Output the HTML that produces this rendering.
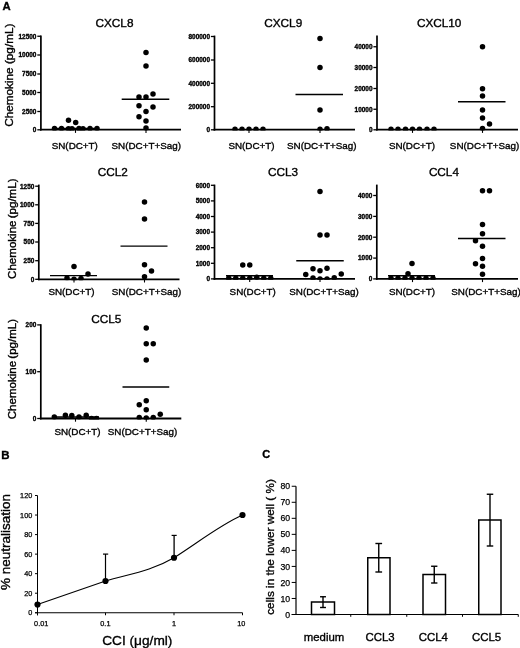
<!DOCTYPE html>
<html><head><meta charset="utf-8"><title>Figure</title>
<style>
html,body{margin:0;padding:0;background:#fff;}
svg{display:block;}
svg text{font-family:'Liberation Sans', Arial, sans-serif;fill:#000;stroke:#000;stroke-width:0.35px;}
</style></head><body>
<svg width="520" height="648" viewBox="0 0 520 648" font-family='"Liberation Sans", Arial, sans-serif'>
<rect x="0" y="0" width="520" height="648" fill="#fff"/>
<line x1="40.9" y1="35.6" x2="40.9" y2="130.6" stroke="#000" stroke-width="1.7" />
<line x1="40.0" y1="129.7" x2="181" y2="129.7" stroke="#000" stroke-width="1.8" />
<line x1="37.3" y1="36.25" x2="40.9" y2="36.25" stroke="#000" stroke-width="1.3" />
<text x="36.4" y="38.6" font-size="6.45" text-anchor="end" font-weight="bold" >12500</text>
<line x1="37.3" y1="55" x2="40.9" y2="55" stroke="#000" stroke-width="1.3" />
<text x="36.4" y="57.35" font-size="6.45" text-anchor="end" font-weight="bold" >10000</text>
<line x1="37.3" y1="74" x2="40.9" y2="74" stroke="#000" stroke-width="1.3" />
<text x="36.4" y="76.35" font-size="6.45" text-anchor="end" font-weight="bold" >7500</text>
<line x1="37.3" y1="92.5" x2="40.9" y2="92.5" stroke="#000" stroke-width="1.3" />
<text x="36.4" y="94.85" font-size="6.45" text-anchor="end" font-weight="bold" >5000</text>
<line x1="37.3" y1="111.5" x2="40.9" y2="111.5" stroke="#000" stroke-width="1.3" />
<text x="36.4" y="113.85" font-size="6.45" text-anchor="end" font-weight="bold" >2500</text>
<line x1="37.3" y1="129.8" x2="40.9" y2="129.8" stroke="#000" stroke-width="1.3" />
<text x="36.4" y="132.15" font-size="6.45" text-anchor="end" font-weight="bold" >0</text>
<line x1="75.5" y1="129.7" x2="75.5" y2="132.89999999999998" stroke="#000" stroke-width="1.1" />
<line x1="146" y1="129.7" x2="146" y2="132.89999999999998" stroke="#000" stroke-width="1.1" />
<text x="114.5" y="27.3" font-size="11.75" text-anchor="middle" font-weight="normal" >CXCL8</text>
<text x="74.8" y="148.6" font-size="9.85" text-anchor="middle" font-weight="normal" >SN(DC+T)</text>
<text x="146.3" y="148.6" font-size="9.85" text-anchor="middle" font-weight="normal" >SN(DC+T+Sag)</text>
<clipPath id="cl1"><rect x="0" y="0" width="520" height="130.6"/></clipPath>
<g clip-path="url(#cl1)">
<circle cx="68.5" cy="120.3" r="2.75"/>
<circle cx="75.7" cy="122.6" r="2.75"/>
<circle cx="54.5" cy="128.6" r="2.75"/>
<circle cx="61.5" cy="128.6" r="2.75"/>
<circle cx="68.5" cy="128.8" r="2.75"/>
<circle cx="72" cy="128.8" r="2.75"/>
<circle cx="79" cy="128.6" r="2.75"/>
<circle cx="83" cy="128.8" r="2.75"/>
<circle cx="90" cy="128.6" r="2.75"/>
<circle cx="97" cy="128.4" r="2.75"/>
<circle cx="146" cy="52.4" r="2.75"/>
<circle cx="146" cy="66" r="2.75"/>
<circle cx="139" cy="97" r="2.75"/>
<circle cx="146" cy="97" r="2.75"/>
<circle cx="153" cy="94" r="2.75"/>
<circle cx="139" cy="105.8" r="2.75"/>
<circle cx="146" cy="111.5" r="2.75"/>
<circle cx="153" cy="107" r="2.75"/>
<circle cx="139" cy="116.8" r="2.75"/>
<circle cx="146" cy="121" r="2.75"/>
<circle cx="146" cy="128.1" r="2.75"/>
</g>
<line x1="52" y1="128.4" x2="99" y2="128.4" stroke="#000" stroke-width="1.4" />
<line x1="121.7" y1="99.25" x2="169.3" y2="99.25" stroke="#000" stroke-width="1.4" />
<text x="0" y="0" font-size="11.75" text-anchor="middle" font-weight="normal" word-spacing="0" transform="translate(12.9,75.2) rotate(-90)">Chemokine (pg/mL)</text>
<line x1="214.5" y1="35.6" x2="214.5" y2="130.6" stroke="#000" stroke-width="1.7" />
<line x1="213.6" y1="129.7" x2="355" y2="129.7" stroke="#000" stroke-width="1.8" />
<line x1="210.9" y1="36.5" x2="214.5" y2="36.5" stroke="#000" stroke-width="1.3" />
<text x="210.0" y="38.85" font-size="6.45" text-anchor="end" font-weight="bold" >800000</text>
<line x1="210.9" y1="60" x2="214.5" y2="60" stroke="#000" stroke-width="1.3" />
<text x="210.0" y="62.35" font-size="6.45" text-anchor="end" font-weight="bold" >600000</text>
<line x1="210.9" y1="83.3" x2="214.5" y2="83.3" stroke="#000" stroke-width="1.3" />
<text x="210.0" y="85.64999999999999" font-size="6.45" text-anchor="end" font-weight="bold" >400000</text>
<line x1="210.9" y1="106.7" x2="214.5" y2="106.7" stroke="#000" stroke-width="1.3" />
<text x="210.0" y="109.05" font-size="6.45" text-anchor="end" font-weight="bold" >200000</text>
<line x1="210.9" y1="129.8" x2="214.5" y2="129.8" stroke="#000" stroke-width="1.3" />
<text x="210.0" y="132.15" font-size="6.45" text-anchor="end" font-weight="bold" >0</text>
<line x1="249" y1="129.7" x2="249" y2="132.89999999999998" stroke="#000" stroke-width="1.1" />
<line x1="320" y1="129.7" x2="320" y2="132.89999999999998" stroke="#000" stroke-width="1.1" />
<text x="283.25" y="27.3" font-size="11.75" text-anchor="middle" font-weight="normal" >CXCL9</text>
<text x="251.5" y="148.6" font-size="9.85" text-anchor="middle" font-weight="normal" >SN(DC+T)</text>
<text x="321.8" y="148.6" font-size="9.85" text-anchor="middle" font-weight="normal" >SN(DC+T+Sag)</text>
<clipPath id="cl2"><rect x="0" y="0" width="520" height="130.6"/></clipPath>
<g clip-path="url(#cl2)">
<circle cx="235" cy="129.3" r="2.75"/>
<circle cx="242" cy="129.3" r="2.75"/>
<circle cx="249" cy="129.3" r="2.75"/>
<circle cx="256" cy="129.3" r="2.75"/>
<circle cx="263" cy="129.3" r="2.75"/>
<circle cx="320" cy="38.5" r="2.75"/>
<circle cx="320" cy="67.5" r="2.75"/>
<circle cx="320" cy="110" r="2.75"/>
<circle cx="320" cy="129.3" r="2.75"/>
<circle cx="327" cy="128.8" r="2.75"/>
</g>
<line x1="295.5" y1="94.5" x2="343" y2="94.5" stroke="#000" stroke-width="1.4" />
<line x1="377" y1="35.6" x2="377" y2="130.6" stroke="#000" stroke-width="1.7" />
<line x1="376.1" y1="129.7" x2="518" y2="129.7" stroke="#000" stroke-width="1.8" />
<line x1="373.4" y1="46.75" x2="377" y2="46.75" stroke="#000" stroke-width="1.3" />
<text x="372.5" y="49.1" font-size="6.45" text-anchor="end" font-weight="bold" >40000</text>
<line x1="373.4" y1="67.5" x2="377" y2="67.5" stroke="#000" stroke-width="1.3" />
<text x="372.5" y="69.85" font-size="6.45" text-anchor="end" font-weight="bold" >30000</text>
<line x1="373.4" y1="88.5" x2="377" y2="88.5" stroke="#000" stroke-width="1.3" />
<text x="372.5" y="90.85" font-size="6.45" text-anchor="end" font-weight="bold" >20000</text>
<line x1="373.4" y1="109.25" x2="377" y2="109.25" stroke="#000" stroke-width="1.3" />
<text x="372.5" y="111.6" font-size="6.45" text-anchor="end" font-weight="bold" >10000</text>
<line x1="373.4" y1="129.8" x2="377" y2="129.8" stroke="#000" stroke-width="1.3" />
<text x="372.5" y="132.15" font-size="6.45" text-anchor="end" font-weight="bold" >0</text>
<line x1="412.5" y1="129.7" x2="412.5" y2="132.89999999999998" stroke="#000" stroke-width="1.1" />
<line x1="482.5" y1="129.7" x2="482.5" y2="132.89999999999998" stroke="#000" stroke-width="1.1" />
<text x="439.2" y="27.3" font-size="11.75" text-anchor="middle" font-weight="normal" >CXCL10</text>
<text x="412" y="148.6" font-size="9.85" text-anchor="middle" font-weight="normal" >SN(DC+T)</text>
<text x="484.6" y="148.6" font-size="9.85" text-anchor="middle" font-weight="normal" >SN(DC+T+Sag)</text>
<clipPath id="cl3"><rect x="0" y="0" width="520" height="130.6"/></clipPath>
<g clip-path="url(#cl3)">
<circle cx="391" cy="129.3" r="2.75"/>
<circle cx="398" cy="129.3" r="2.75"/>
<circle cx="405.5" cy="129.3" r="2.75"/>
<circle cx="412.5" cy="129.3" r="2.75"/>
<circle cx="419.5" cy="129.3" r="2.75"/>
<circle cx="427" cy="129.3" r="2.75"/>
<circle cx="434" cy="129.3" r="2.75"/>
<circle cx="482.5" cy="46.75" r="2.75"/>
<circle cx="482.5" cy="88.75" r="2.75"/>
<circle cx="482.5" cy="96" r="2.75"/>
<circle cx="482.5" cy="110" r="2.75"/>
<circle cx="482.5" cy="118" r="2.75"/>
<circle cx="489.5" cy="124" r="2.75"/>
<circle cx="482.5" cy="128.5" r="2.75"/>
</g>
<line x1="458" y1="101.75" x2="505.5" y2="101.75" stroke="#000" stroke-width="1.4" />
<line x1="38.8" y1="184.6" x2="38.8" y2="280.2" stroke="#000" stroke-width="1.7" />
<line x1="37.9" y1="279.3" x2="179.5" y2="279.3" stroke="#000" stroke-width="1.8" />
<line x1="35.199999999999996" y1="186.2" x2="38.8" y2="186.2" stroke="#000" stroke-width="1.3" />
<text x="34.3" y="188.54999999999998" font-size="6.45" text-anchor="end" font-weight="bold" >1250</text>
<line x1="35.199999999999996" y1="204.8" x2="38.8" y2="204.8" stroke="#000" stroke-width="1.3" />
<text x="34.3" y="207.15" font-size="6.45" text-anchor="end" font-weight="bold" >1000</text>
<line x1="35.199999999999996" y1="223.4" x2="38.8" y2="223.4" stroke="#000" stroke-width="1.3" />
<text x="34.3" y="225.75" font-size="6.45" text-anchor="end" font-weight="bold" >750</text>
<line x1="35.199999999999996" y1="242" x2="38.8" y2="242" stroke="#000" stroke-width="1.3" />
<text x="34.3" y="244.35" font-size="6.45" text-anchor="end" font-weight="bold" >500</text>
<line x1="35.199999999999996" y1="260.7" x2="38.8" y2="260.7" stroke="#000" stroke-width="1.3" />
<text x="34.3" y="263.05" font-size="6.45" text-anchor="end" font-weight="bold" >250</text>
<line x1="35.199999999999996" y1="279.3" x2="38.8" y2="279.3" stroke="#000" stroke-width="1.3" />
<text x="34.3" y="281.65000000000003" font-size="6.45" text-anchor="end" font-weight="bold" >0</text>
<line x1="74" y1="279.3" x2="74" y2="282.5" stroke="#000" stroke-width="1.1" />
<line x1="144.5" y1="279.3" x2="144.5" y2="282.5" stroke="#000" stroke-width="1.1" />
<text x="112.7" y="175.6" font-size="11.75" text-anchor="middle" font-weight="normal" >CCL2</text>
<text x="71.5" y="295.1" font-size="9.85" text-anchor="middle" font-weight="normal" >SN(DC+T)</text>
<text x="146.5" y="295.1" font-size="9.85" text-anchor="middle" font-weight="normal" >SN(DC+T+Sag)</text>
<clipPath id="cl4"><rect x="0" y="0" width="520" height="280.2"/></clipPath>
<g clip-path="url(#cl4)">
<circle cx="74" cy="266.5" r="2.75"/>
<circle cx="88" cy="274" r="2.75"/>
<circle cx="67" cy="278" r="2.75"/>
<circle cx="74" cy="279.3" r="2.75"/>
<circle cx="81" cy="278.5" r="2.75"/>
<circle cx="144.5" cy="202" r="2.75"/>
<circle cx="144.5" cy="219" r="2.75"/>
<circle cx="144.5" cy="264.75" r="2.75"/>
<circle cx="151.5" cy="271" r="2.75"/>
<circle cx="144.5" cy="276.75" r="2.75"/>
</g>
<line x1="50" y1="275.6" x2="97" y2="275.6" stroke="#000" stroke-width="1.4" />
<line x1="120.5" y1="246.1" x2="167.5" y2="246.1" stroke="#000" stroke-width="1.4" />
<text x="0" y="0" font-size="11.55" text-anchor="middle" font-weight="normal" word-spacing="-1" transform="translate(16.4,228.7) rotate(-90)">Chemokine (pg/mL)</text>
<line x1="214.5" y1="184.6" x2="214.5" y2="279.79999999999995" stroke="#000" stroke-width="1.7" />
<line x1="213.6" y1="278.9" x2="355" y2="278.9" stroke="#000" stroke-width="1.8" />
<line x1="210.9" y1="185.3" x2="214.5" y2="185.3" stroke="#000" stroke-width="1.3" />
<text x="210.0" y="187.65" font-size="6.45" text-anchor="end" font-weight="bold" >6000</text>
<line x1="210.9" y1="200.9" x2="214.5" y2="200.9" stroke="#000" stroke-width="1.3" />
<text x="210.0" y="203.25" font-size="6.45" text-anchor="end" font-weight="bold" >5000</text>
<line x1="210.9" y1="216.5" x2="214.5" y2="216.5" stroke="#000" stroke-width="1.3" />
<text x="210.0" y="218.85" font-size="6.45" text-anchor="end" font-weight="bold" >4000</text>
<line x1="210.9" y1="232.1" x2="214.5" y2="232.1" stroke="#000" stroke-width="1.3" />
<text x="210.0" y="234.45" font-size="6.45" text-anchor="end" font-weight="bold" >3000</text>
<line x1="210.9" y1="247.7" x2="214.5" y2="247.7" stroke="#000" stroke-width="1.3" />
<text x="210.0" y="250.04999999999998" font-size="6.45" text-anchor="end" font-weight="bold" >2000</text>
<line x1="210.9" y1="263.3" x2="214.5" y2="263.3" stroke="#000" stroke-width="1.3" />
<text x="210.0" y="265.65000000000003" font-size="6.45" text-anchor="end" font-weight="bold" >1000</text>
<line x1="210.9" y1="278.9" x2="214.5" y2="278.9" stroke="#000" stroke-width="1.3" />
<text x="210.0" y="281.25" font-size="6.45" text-anchor="end" font-weight="bold" >0</text>
<line x1="249.7" y1="278.9" x2="249.7" y2="282.09999999999997" stroke="#000" stroke-width="1.1" />
<line x1="320" y1="278.9" x2="320" y2="282.09999999999997" stroke="#000" stroke-width="1.1" />
<text x="283.1" y="175.6" font-size="11.75" text-anchor="middle" font-weight="normal" >CCL3</text>
<text x="252.7" y="295.1" font-size="9.85" text-anchor="middle" font-weight="normal" >SN(DC+T)</text>
<text x="324" y="295.1" font-size="9.85" text-anchor="middle" font-weight="normal" >SN(DC+T+Sag)</text>
<clipPath id="cl5"><rect x="0" y="0" width="520" height="279.79999999999995"/></clipPath>
<g clip-path="url(#cl5)">
<circle cx="242.75" cy="265" r="2.75"/>
<circle cx="249.75" cy="265" r="2.75"/>
<circle cx="228.75" cy="278.3" r="2.75"/>
<circle cx="235.75" cy="278.3" r="2.75"/>
<circle cx="242.75" cy="278.3" r="2.75"/>
<circle cx="249.75" cy="278.3" r="2.75"/>
<circle cx="256.75" cy="277.2" r="2.75"/>
<circle cx="263.75" cy="278.3" r="2.75"/>
<circle cx="270.75" cy="278.3" r="2.75"/>
<circle cx="320" cy="191.5" r="2.75"/>
<circle cx="320" cy="235" r="2.75"/>
<circle cx="327" cy="235" r="2.75"/>
<circle cx="313" cy="268.75" r="2.75"/>
<circle cx="320" cy="270.75" r="2.75"/>
<circle cx="327" cy="268.25" r="2.75"/>
<circle cx="305.75" cy="274.5" r="2.75"/>
<circle cx="341.25" cy="274" r="2.75"/>
<circle cx="313" cy="278" r="2.75"/>
<circle cx="320" cy="279" r="2.75"/>
<circle cx="327" cy="279" r="2.75"/>
<circle cx="334.25" cy="277.75" r="2.75"/>
</g>
<line x1="226" y1="275.8" x2="273" y2="275.8" stroke="#000" stroke-width="1.4" />
<line x1="296.25" y1="260.75" x2="343.75" y2="260.75" stroke="#000" stroke-width="1.4" />
<line x1="376.8" y1="184.6" x2="376.8" y2="279.79999999999995" stroke="#000" stroke-width="1.7" />
<line x1="375.90000000000003" y1="278.9" x2="518" y2="278.9" stroke="#000" stroke-width="1.8" />
<line x1="373.2" y1="195.5" x2="376.8" y2="195.5" stroke="#000" stroke-width="1.3" />
<text x="372.3" y="197.85" font-size="6.45" text-anchor="end" font-weight="bold" >4000</text>
<line x1="373.2" y1="216.4" x2="376.8" y2="216.4" stroke="#000" stroke-width="1.3" />
<text x="372.3" y="218.75" font-size="6.45" text-anchor="end" font-weight="bold" >3000</text>
<line x1="373.2" y1="237.2" x2="376.8" y2="237.2" stroke="#000" stroke-width="1.3" />
<text x="372.3" y="239.54999999999998" font-size="6.45" text-anchor="end" font-weight="bold" >2000</text>
<line x1="373.2" y1="258.1" x2="376.8" y2="258.1" stroke="#000" stroke-width="1.3" />
<text x="372.3" y="260.45000000000005" font-size="6.45" text-anchor="end" font-weight="bold" >1000</text>
<line x1="373.2" y1="278.9" x2="376.8" y2="278.9" stroke="#000" stroke-width="1.3" />
<text x="372.3" y="281.25" font-size="6.45" text-anchor="end" font-weight="bold" >0</text>
<line x1="412.5" y1="278.9" x2="412.5" y2="282.09999999999997" stroke="#000" stroke-width="1.1" />
<line x1="482.5" y1="278.9" x2="482.5" y2="282.09999999999997" stroke="#000" stroke-width="1.1" />
<text x="443.9" y="175.6" font-size="11.75" text-anchor="middle" font-weight="normal" >CCL4</text>
<text x="412" y="295.1" font-size="9.85" text-anchor="middle" font-weight="normal" >SN(DC+T)</text>
<text x="486" y="295.1" font-size="9.85" text-anchor="middle" font-weight="normal" >SN(DC+T+Sag)</text>
<clipPath id="cl6"><rect x="0" y="0" width="520" height="279.79999999999995"/></clipPath>
<g clip-path="url(#cl6)">
<circle cx="412" cy="263.5" r="2.75"/>
<circle cx="408" cy="273.8" r="2.75"/>
<circle cx="391" cy="278.2" r="2.75"/>
<circle cx="398" cy="278.2" r="2.75"/>
<circle cx="405" cy="278.2" r="2.75"/>
<circle cx="412" cy="278.2" r="2.75"/>
<circle cx="419" cy="278.2" r="2.75"/>
<circle cx="426" cy="278.2" r="2.75"/>
<circle cx="433" cy="278.2" r="2.75"/>
<circle cx="482.5" cy="190.75" r="2.75"/>
<circle cx="489.5" cy="190.75" r="2.75"/>
<circle cx="482.5" cy="224.5" r="2.75"/>
<circle cx="482.5" cy="233.75" r="2.75"/>
<circle cx="475.5" cy="240.75" r="2.75"/>
<circle cx="482.5" cy="246.25" r="2.75"/>
<circle cx="482.5" cy="258.5" r="2.75"/>
<circle cx="475.5" cy="263.75" r="2.75"/>
<circle cx="482.5" cy="266.25" r="2.75"/>
<circle cx="482.5" cy="274.25" r="2.75"/>
</g>
<line x1="388" y1="275.8" x2="435" y2="275.8" stroke="#000" stroke-width="1.4" />
<line x1="458" y1="238.5" x2="505.5" y2="238.5" stroke="#000" stroke-width="1.4" />
<line x1="40.8" y1="324.20000000000005" x2="40.8" y2="419.4" stroke="#000" stroke-width="1.7" />
<line x1="39.9" y1="418.5" x2="181.3" y2="418.5" stroke="#000" stroke-width="1.8" />
<line x1="37.199999999999996" y1="324.9" x2="40.8" y2="324.9" stroke="#000" stroke-width="1.3" />
<text x="36.3" y="327.25" font-size="6.45" text-anchor="end" font-weight="bold" >200</text>
<line x1="37.199999999999996" y1="371.7" x2="40.8" y2="371.7" stroke="#000" stroke-width="1.3" />
<text x="36.3" y="374.05" font-size="6.45" text-anchor="end" font-weight="bold" >100</text>
<line x1="37.199999999999996" y1="418.5" x2="40.8" y2="418.5" stroke="#000" stroke-width="1.3" />
<text x="36.3" y="420.85" font-size="6.45" text-anchor="end" font-weight="bold" >0</text>
<line x1="75.5" y1="418.5" x2="75.5" y2="421.7" stroke="#000" stroke-width="1.1" />
<line x1="146.25" y1="418.5" x2="146.25" y2="421.7" stroke="#000" stroke-width="1.1" />
<text x="106.25" y="323" font-size="11.75" text-anchor="middle" font-weight="normal" >CCL5</text>
<text x="77.5" y="435.3" font-size="9.85" text-anchor="middle" font-weight="normal" >SN(DC+T)</text>
<text x="142.5" y="435.3" font-size="9.85" text-anchor="middle" font-weight="normal" >SN(DC+T+Sag)</text>
<clipPath id="cl7"><rect x="0" y="0" width="520" height="419.4"/></clipPath>
<g clip-path="url(#cl7)">
<circle cx="54.3" cy="417" r="2.75"/>
<circle cx="65.4" cy="415.3" r="2.75"/>
<circle cx="71.8" cy="415.5" r="2.75"/>
<circle cx="79" cy="417" r="2.75"/>
<circle cx="86.2" cy="415.3" r="2.75"/>
<circle cx="91.5" cy="418.6" r="2.75"/>
<circle cx="96.5" cy="418.4" r="2.75"/>
<circle cx="146.25" cy="328" r="2.75"/>
<circle cx="146.25" cy="343.75" r="2.75"/>
<circle cx="153.25" cy="343.75" r="2.75"/>
<circle cx="146.25" cy="360" r="2.75"/>
<circle cx="146.25" cy="400.75" r="2.75"/>
<circle cx="139.25" cy="404.75" r="2.75"/>
<circle cx="146.25" cy="409.75" r="2.75"/>
<circle cx="160.25" cy="414.25" r="2.75"/>
<circle cx="139.25" cy="417.5" r="2.75"/>
<circle cx="146.25" cy="418" r="2.75"/>
<circle cx="153.25" cy="417.5" r="2.75"/>
</g>
<line x1="52" y1="417" x2="99" y2="417" stroke="#000" stroke-width="1.4" />
<line x1="122.5" y1="387" x2="169.25" y2="387" stroke="#000" stroke-width="1.4" />
<text x="0" y="0" font-size="11.55" text-anchor="middle" font-weight="normal" word-spacing="-1" transform="translate(16.4,369.1) rotate(-90)">Chemokine (pg/mL)</text>
<text x="2.6" y="9.9" font-size="11.3" text-anchor="start" font-weight="bold" >A</text>
<text x="1.2" y="459" font-size="11.5" text-anchor="start" font-weight="bold" >B</text>
<text x="262.3" y="457.5" font-size="11" text-anchor="start" font-weight="bold" >C</text>
<line x1="37.5" y1="495.5" x2="37.5" y2="615.25" stroke="#000" stroke-width="1.0" />
<line x1="35.0" y1="612.75" x2="242.5" y2="612.75" stroke="#000" stroke-width="1.0" />
<line x1="35.0" y1="495.5" x2="37.5" y2="495.5" stroke="#000" stroke-width="1.0" />
<text x="32.3" y="498.0" font-size="7.3" text-anchor="end" font-weight="normal" style="stroke-width:0.25px">120</text>
<line x1="35.0" y1="515.0416666666666" x2="37.5" y2="515.0416666666666" stroke="#000" stroke-width="1.0" />
<text x="32.3" y="517.5416666666666" font-size="7.3" text-anchor="end" font-weight="normal" style="stroke-width:0.25px">100</text>
<line x1="35.0" y1="534.5833333333334" x2="37.5" y2="534.5833333333334" stroke="#000" stroke-width="1.0" />
<text x="32.3" y="537.0833333333334" font-size="7.3" text-anchor="end" font-weight="normal" style="stroke-width:0.25px">80</text>
<line x1="35.0" y1="554.125" x2="37.5" y2="554.125" stroke="#000" stroke-width="1.0" />
<text x="32.3" y="556.625" font-size="7.3" text-anchor="end" font-weight="normal" style="stroke-width:0.25px">60</text>
<line x1="35.0" y1="573.6666666666666" x2="37.5" y2="573.6666666666666" stroke="#000" stroke-width="1.0" />
<text x="32.3" y="576.1666666666666" font-size="7.3" text-anchor="end" font-weight="normal" style="stroke-width:0.25px">40</text>
<line x1="35.0" y1="593.2083333333334" x2="37.5" y2="593.2083333333334" stroke="#000" stroke-width="1.0" />
<text x="32.3" y="595.7083333333334" font-size="7.3" text-anchor="end" font-weight="normal" style="stroke-width:0.25px">20</text>
<line x1="35.0" y1="612.75" x2="37.5" y2="612.75" stroke="#000" stroke-width="1.0" />
<text x="32.3" y="615.25" font-size="7.3" text-anchor="end" font-weight="normal" style="stroke-width:0.25px">0</text>
<line x1="37.5" y1="612.75" x2="37.5" y2="615.25" stroke="#000" stroke-width="1.0" />
<text x="41.2" y="625.6" font-size="7.3" text-anchor="middle" font-weight="normal" style="stroke-width:0.25px">0.01</text>
<line x1="105.5" y1="612.75" x2="105.5" y2="615.25" stroke="#000" stroke-width="1.0" />
<text x="105.4" y="625.6" font-size="7.3" text-anchor="middle" font-weight="normal" style="stroke-width:0.25px">0.1</text>
<line x1="174" y1="612.75" x2="174" y2="615.25" stroke="#000" stroke-width="1.0" />
<text x="174" y="625.6" font-size="7.3" text-anchor="middle" font-weight="normal" style="stroke-width:0.25px">1</text>
<line x1="242.5" y1="612.75" x2="242.5" y2="615.25" stroke="#000" stroke-width="1.0" />
<text x="241.3" y="625.6" font-size="7.3" text-anchor="middle" font-weight="normal" style="stroke-width:0.25px">10</text>
<path d="M37.5 604.5 L105.5 581 C128.5 574.1 151 571.3 174 557.75 C197 543.2 220 525 242.5 515" fill="none" stroke="#000" stroke-width="1.1"/>
<circle cx="37.5" cy="604.5" r="3.1"/>
<circle cx="105.5" cy="581" r="3.1"/>
<circle cx="174" cy="557.75" r="3.1"/>
<circle cx="242.5" cy="515" r="3.1"/>
<line x1="105.5" y1="581" x2="105.5" y2="554" stroke="#000" stroke-width="1.2" />
<line x1="103" y1="554.1" x2="108.2" y2="554.1" stroke="#000" stroke-width="1.2" />
<line x1="174.1" y1="557.75" x2="174.1" y2="535.25" stroke="#000" stroke-width="1.3" />
<line x1="171.6" y1="535.4" x2="176.7" y2="535.4" stroke="#000" stroke-width="1.2" />
<text x="0" y="0" font-size="13.5" text-anchor="middle" font-weight="normal" transform="translate(10.3,542) rotate(-90)">% neutralisation</text>
<text x="137.3" y="644.9" font-size="13.7" text-anchor="middle" font-weight="normal" >CCI (μg/ml)</text>
<line x1="296" y1="486.3" x2="296" y2="614.5" stroke="#000" stroke-width="1.2" />
<line x1="291.7" y1="614.5" x2="518.3" y2="614.5" stroke="#000" stroke-width="1.2" />
<line x1="291.7" y1="614.5" x2="296" y2="614.5" stroke="#000" stroke-width="1.0" />
<text x="290.2" y="617.6" font-size="8.7" text-anchor="end" font-weight="normal" style="stroke-width:0.25px">0</text>
<line x1="291.7" y1="598.47" x2="296" y2="598.47" stroke="#000" stroke-width="1.0" />
<text x="290.2" y="601.57" font-size="8.7" text-anchor="end" font-weight="normal" style="stroke-width:0.25px">10</text>
<line x1="291.7" y1="582.44" x2="296" y2="582.44" stroke="#000" stroke-width="1.0" />
<text x="290.2" y="585.5400000000001" font-size="8.7" text-anchor="end" font-weight="normal" style="stroke-width:0.25px">20</text>
<line x1="291.7" y1="566.41" x2="296" y2="566.41" stroke="#000" stroke-width="1.0" />
<text x="290.2" y="569.51" font-size="8.7" text-anchor="end" font-weight="normal" style="stroke-width:0.25px">30</text>
<line x1="291.7" y1="550.38" x2="296" y2="550.38" stroke="#000" stroke-width="1.0" />
<text x="290.2" y="553.48" font-size="8.7" text-anchor="end" font-weight="normal" style="stroke-width:0.25px">40</text>
<line x1="291.7" y1="534.35" x2="296" y2="534.35" stroke="#000" stroke-width="1.0" />
<text x="290.2" y="537.45" font-size="8.7" text-anchor="end" font-weight="normal" style="stroke-width:0.25px">50</text>
<line x1="291.7" y1="518.3199999999999" x2="296" y2="518.3199999999999" stroke="#000" stroke-width="1.0" />
<text x="290.2" y="521.42" font-size="8.7" text-anchor="end" font-weight="normal" style="stroke-width:0.25px">60</text>
<line x1="291.7" y1="502.28999999999996" x2="296" y2="502.28999999999996" stroke="#000" stroke-width="1.0" />
<text x="290.2" y="505.39" font-size="8.7" text-anchor="end" font-weight="normal" style="stroke-width:0.25px">70</text>
<line x1="291.7" y1="486.26" x2="296" y2="486.26" stroke="#000" stroke-width="1.0" />
<text x="290.2" y="489.36" font-size="8.7" text-anchor="end" font-weight="normal" style="stroke-width:0.25px">80</text>
<line x1="350.75" y1="614.5" x2="350.75" y2="616.8" stroke="#000" stroke-width="1.0" />
<line x1="406.75" y1="614.5" x2="406.75" y2="616.8" stroke="#000" stroke-width="1.0" />
<line x1="462.5" y1="614.5" x2="462.5" y2="616.8" stroke="#000" stroke-width="1.0" />
<line x1="518.25" y1="614.5" x2="518.25" y2="616.8" stroke="#000" stroke-width="1.0" />
<rect x="311.5" y="602" width="23.0" height="12.5" fill="#fff" stroke="#000" stroke-width="1.5"/>
<line x1="323" y1="596.75" x2="323" y2="607.5" stroke="#000" stroke-width="1.4" />
<line x1="320.05" y1="596.75" x2="325.95" y2="596.75" stroke="#000" stroke-width="1.4" />
<line x1="320.05" y1="607.5" x2="325.95" y2="607.5" stroke="#000" stroke-width="1.4" />
<rect x="367.75" y="557.75" width="22.25" height="56.75" fill="#fff" stroke="#000" stroke-width="1.5"/>
<line x1="378.75" y1="543.5" x2="378.75" y2="572" stroke="#000" stroke-width="1.4" />
<line x1="375.4" y1="543.5" x2="382.1" y2="543.5" stroke="#000" stroke-width="1.4" />
<line x1="375.4" y1="572" x2="382.1" y2="572" stroke="#000" stroke-width="1.4" />
<rect x="423" y="574.5" width="22.5" height="40.0" fill="#fff" stroke="#000" stroke-width="1.5"/>
<line x1="434.25" y1="566.25" x2="434.25" y2="583" stroke="#000" stroke-width="1.4" />
<line x1="431.1" y1="566.25" x2="437.4" y2="566.25" stroke="#000" stroke-width="1.4" />
<line x1="431.1" y1="583" x2="437.4" y2="583" stroke="#000" stroke-width="1.4" />
<rect x="478.75" y="520" width="22.25" height="94.5" fill="#fff" stroke="#000" stroke-width="1.5"/>
<line x1="490" y1="494.25" x2="490" y2="546" stroke="#000" stroke-width="1.4" />
<line x1="486.75" y1="494.25" x2="493.25" y2="494.25" stroke="#000" stroke-width="1.4" />
<line x1="486.75" y1="546" x2="493.25" y2="546" stroke="#000" stroke-width="1.4" />
<text x="324" y="640.5" font-size="11.4" text-anchor="middle" font-weight="normal" >medium</text>
<text x="380.1" y="640.5" font-size="11.4" text-anchor="middle" font-weight="normal" >CCL3</text>
<text x="433.4" y="640.5" font-size="11.4" text-anchor="middle" font-weight="normal" >CCL4</text>
<text x="486.6" y="640.5" font-size="11.4" text-anchor="middle" font-weight="normal" >CCL5</text>
<text x="0" y="0" font-size="11.8" text-anchor="start" font-weight="normal" transform="translate(273.5,614.8) rotate(-90)">cells in the lower well ( %)</text>
</svg>
</body></html>
